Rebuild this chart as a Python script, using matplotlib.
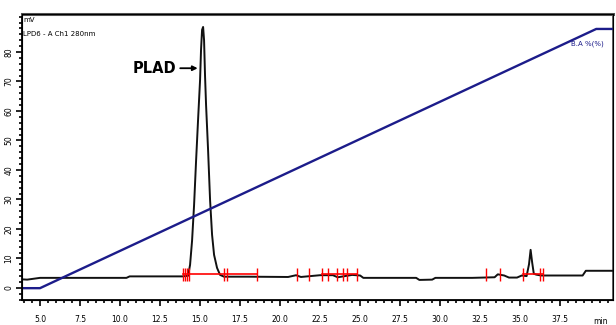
import matplotlib.pyplot as plt
from matplotlib.ticker import MultipleLocator

# chromatogram (min, mV)
t_sig = [3.5, 4.2, 5.0, 8.0, 10.4, 10.6, 13.0, 13.9, 14.25, 14.375, 14.5, 14.625, 14.75,
         14.875, 15.0, 15.06, 15.125, 15.19, 15.25, 15.31, 15.375, 15.5, 15.625, 15.75,
         15.875, 16.06, 16.25, 16.5, 18.0, 20.5, 21.0, 21.3, 22.5, 23.3, 23.6, 24.5, 25.0,
         25.2, 27.0, 28.5, 28.7, 29.5, 29.7, 32.0, 33.4, 33.6, 34.0, 34.3, 34.8, 35.1,
         35.4, 35.55, 35.65, 35.75, 35.85, 36.0, 36.3, 37.0, 38.0, 38.9, 39.1, 41.0]
sig = [3.0, 2.8, 3.4, 3.4, 3.4, 3.9, 3.9, 3.9, 4.1, 7.8, 16.0, 28.0, 43.0,
       57.0, 70.5, 80.7, 87.5, 88.5, 84.0, 72.0, 62.0, 46.8, 29.8, 18.0,
       11.2, 6.8, 4.4, 3.8, 3.8, 3.7, 4.3, 3.7, 4.3, 4.3, 3.6, 4.4, 4.2,
       3.4, 3.4, 3.4, 2.7, 2.8, 3.4, 3.4, 3.6, 4.6, 4.2, 3.5, 3.5, 4.2,
       4.0, 8.0, 12.9, 8.5, 4.8, 4.5, 4.2, 4.2, 4.2, 4.2, 5.8, 5.8]

# gradient programme (min, %B)
t_grad = [0.0, 5.0, 39.75, 42.0]
pct_b = [5, 5, 95, 95]

# integration marks (min)
red_segments = [(13.94, 18.56), (22.63, 24.81), (35.19, 36.44)]
red_level = 4.6
red_ticks = [13.94, 14.06, 14.19, 14.31, 16.5, 16.69, 18.56, 21.06, 21.81, 22.63,
             23.0, 23.56, 23.94, 24.19, 24.81, 32.88, 33.75, 35.19, 36.25, 36.44]

xticks = [5.0, 7.5, 10.0, 12.5, 15.0, 17.5, 20.0, 22.5, 25.0, 27.5, 30.0, 32.5, 35.0, 37.5]
yticks = [0, 10, 20, 30, 40, 50, 60, 70, 80]

fig = plt.figure(figsize=(6.16, 3.25), dpi=100)
ax = fig.add_axes([0.0357, 0.077, 0.9595, 0.880])

ax.plot(t_sig, sig, color='#111111', linewidth=1.4, zorder=3)
for a, b in red_segments:
    ax.plot([a, b], [red_level, red_level], color='red', linewidth=1.2, zorder=4)
ax.vlines(red_ticks, 2.2, 6.8, color='red', linewidth=1.0, zorder=4)

ax.set_xlim(3.875, 40.8)
ax.set_ylim(-4.1, 92.9)
ax.set_xticks(xticks)
ax.set_xticklabels(['%.1f' % v for v in xticks])
ax.set_yticks(yticks)
ax.set_yticklabels([str(v) for v in yticks], rotation=90, va='center')
ax.xaxis.set_minor_locator(MultipleLocator(0.5))
ax.yaxis.set_minor_locator(MultipleLocator(2))
ax.tick_params(which='both', direction='out', labelsize=5.5, width=1.2)
ax.tick_params(which='major', length=4)
ax.tick_params(which='minor', length=2.5)
ax.tick_params(axis='x', pad=7)
ax.tick_params(axis='y', pad=2)
for s in ax.spines.values():
    s.set_linewidth(1.3)
ax.spines['top'].set_color('#555555')
ax.spines['top'].set_linewidth(2.2)
ax.spines['right'].set_color('#555555')

ax.text(40.0, -11.3, 'min', fontsize=5.5, ha='center', va='center')
ax.text(3.95, 91.0, 'mV', fontsize=5, ha='left', va='center')
ax.text(3.95, 86.0, 'LPD6 - A Ch1 280nm', fontsize=5, ha='left', va='center')

ax.annotate('PLAD', xy=(14.85, 74.5), xytext=(13.5, 74.5),
            fontsize=10.5, fontweight='bold', family=['Liberation Sans Narrow', 'DejaVu Sans'],
            ha='right', va='center',
            arrowprops=dict(arrowstyle='-|>', color='black', lw=1.3,
                            shrinkA=1, shrinkB=0, mutation_scale=7))

ax2 = ax.twinx()
ax2.plot(t_grad, pct_b, color='#1c1c8a', linewidth=1.7, zorder=2)
ax2.set_ylim(0.9, 100.2)
ax2.set_yticks([])
ax2.text(38.2, 90.0, 'B.A %(%)', fontsize=5, color='#1c1c8a', ha='left', va='center',
         clip_on=True)

fig.savefig('out.png', dpi=100)
